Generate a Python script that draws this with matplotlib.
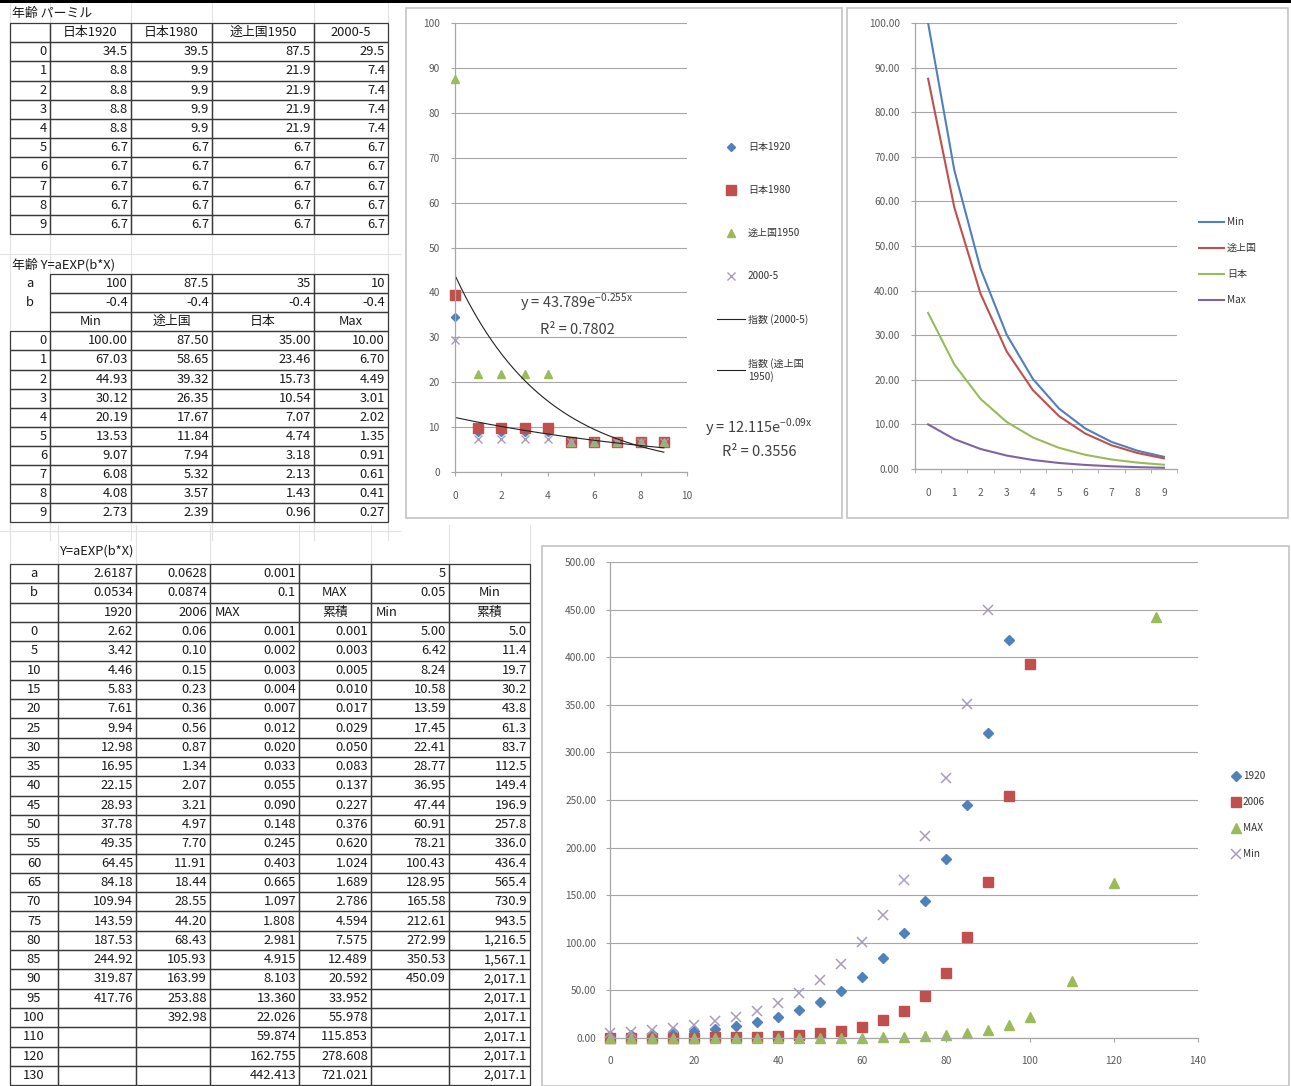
import numpy as np
import matplotlib
matplotlib.use("Agg")
import matplotlib.pyplot as plt
from matplotlib.lines import Line2D
from matplotlib.patches import Rectangle
from matplotlib.ticker import FormatStrFormatter, MultipleLocator, FixedLocator

plt.rcParams['font.family'] = ['Noto Sans CJK JP', 'DejaVu Sans']
plt.rcParams['mathtext.fontset'] = 'dejavusans'

W, H = 1291, 1086

# ---------------- data: table 1 (per mille) ----------------
ages1 = [0, 1, 2, 3, 4, 5, 6, 7, 8, 9]
jp1920 = [34.5, 8.8, 8.8, 8.8, 8.8, 6.7, 6.7, 6.7, 6.7, 6.7]
jp1980 = [39.5, 9.9, 9.9, 9.9, 9.9, 6.7, 6.7, 6.7, 6.7, 6.7]
dev1950 = [87.5, 21.9, 21.9, 21.9, 21.9, 6.7, 6.7, 6.7, 6.7, 6.7]
y2000_5 = [29.5, 7.4, 7.4, 7.4, 7.4, 6.7, 6.7, 6.7, 6.7, 6.7]
t1_headers = ["", "日本1920", "日本1980", "途上国1950", "2000-5"]

# ---------------- data: table 2 (Y=aEXP(b*X)) ----------------
t2_a = ["100", "87.5", "35", "10"]
t2_b = ["-0.4", "-0.4", "-0.4", "-0.4"]
t2_headers = ["Min", "途上国", "日本", "Max"]
min_v = [100.00, 67.03, 44.93, 30.12, 20.19, 13.53, 9.07, 6.08, 4.08, 2.73]
dev_v = [87.50, 58.65, 39.32, 26.35, 17.67, 11.84, 7.94, 5.32, 3.57, 2.39]
jp_v = [35.00, 23.46, 15.73, 10.54, 7.07, 4.74, 3.18, 2.13, 1.43, 0.96]
max_v = [10.00, 6.70, 4.49, 3.01, 2.02, 1.35, 0.91, 0.61, 0.41, 0.27]

# ---------------- data: table 3 ----------------
ages3 = [0, 5, 10, 15, 20, 25, 30, 35, 40, 45, 50, 55, 60, 65, 70, 75, 80, 85,
         90, 95, 100, 110, 120, 130]
t3_a = ["a", "2.6187", "0.0628", "0.001", "", "5", ""]
t3_b = ["b", "0.0534", "0.0874", "0.1", "MAX", "0.05", "Min"]
t3_headers = ["", "1920", "2006", "MAX", "累積", "Min", "累積"]
v1920 = [2.62, 3.42, 4.46, 5.83, 7.61, 9.94, 12.98, 16.95, 22.15, 28.93, 37.78,
         49.35, 64.45, 84.18, 109.94, 143.59, 187.53, 244.92, 319.87, 417.76]
v2006 = [0.06, 0.10, 0.15, 0.23, 0.36, 0.56, 0.87, 1.34, 2.07, 3.21, 4.97, 7.70,
         11.91, 18.44, 28.55, 44.20, 68.43, 105.93, 163.99, 253.88, 392.98]
vmax = [0.001, 0.002, 0.003, 0.004, 0.007, 0.012, 0.020, 0.033, 0.055, 0.090,
        0.148, 0.245, 0.403, 0.665, 1.097, 1.808, 2.981, 4.915, 8.103, 13.360,
        22.026, 59.874, 162.755, 442.413]
vmax_cum = [0.001, 0.003, 0.005, 0.010, 0.017, 0.029, 0.050, 0.083, 0.137, 0.227,
            0.376, 0.620, 1.024, 1.689, 2.786, 4.594, 7.575, 12.489, 20.592,
            33.952, 55.978, 115.853, 278.608, 721.021]
vmin = [5.00, 6.42, 8.24, 10.58, 13.59, 17.45, 22.41, 28.77, 36.95, 47.44, 60.91,
        78.21, 100.43, 128.95, 165.58, 212.61, 272.99, 350.53, 450.09]
vmin_cum = [5.0, 11.4, 19.7, 30.2, 43.8, 61.3, 83.7, 112.5, 149.4, 196.9, 257.8,
            336.0, 436.4, 565.4, 730.9, 943.5, 1216.5, 1567.1, 2017.1, 2017.1,
            2017.1, 2017.1, 2017.1, 2017.1]

eq1_text = ["y = 43.789e$^{\\mathregular{-0.255x}}$", "R² = 0.7802"]
eq2_text = ["y = 12.115e$^{\\mathregular{-0.09x}}$", "R² = 0.3556"]

BLUE, RED, GREEN, PURPLE = '#4F81BD', '#C0504D', '#9BBB59', '#8064A2'
XCOL = '#A99BBD'
BORDER = '#3a3a3a'
TXT = '#1a1a1a'
FAINT = '#e2e2e2'
GRID = '#a6a6a6'
TICK = '#595959'

fig = plt.figure(figsize=(W / 100, H / 100), dpi=100)
bg = fig.add_axes([0, 0, 1, 1])
bg.set_xlim(0, W)
bg.set_ylim(H, 0)
bg.axis('off')


def pax(l, t, r, b):
    a = fig.add_axes([l / W, 1 - b / H, (r - l) / W, (b - t) / H])
    a.patch.set_alpha(0)
    return a


# top black strip
bg.add_patch(Rectangle((0, 0), W, 2.5, color='black', lw=0))

# faint spreadsheet gridlines in the gaps
for x in [10, 50, 131, 212, 314, 388]:
    bg.plot([x, x], [3, 540], color=FAINT, lw=0.8, zorder=0)
for y in [254, 531]:
    bg.plot([0, 400], [y, y], color=FAINT, lw=0.8, zorder=0)
for x in [10, 58, 136, 210, 299, 371, 449, 530]:
    bg.plot([x, x], [525, 1086], color=FAINT, lw=0.8, zorder=0)


def draw_table(xe, top, rh, rows, aligns, box_from, fs=9.3):
    for r, (cells, al, b0) in enumerate(zip(rows, aligns, box_from)):
        y0 = top + r * rh
        if b0 is not None:
            for c in range(b0, len(xe) - 1):
                bg.add_patch(Rectangle((xe[c], y0), xe[c + 1] - xe[c], rh,
                                       fill=False, ec=BORDER, lw=0.9, zorder=2))
        for c, s in enumerate(cells):
            if not s:
                continue
            a = al[c]
            if a == 'r':
                x, ha = xe[c + 1] - 3, 'right'
            elif a == 'l':
                x, ha = xe[c] + 5, 'left'
            else:
                x, ha = (xe[c] + xe[c + 1]) / 2, 'center'
            bg.text(x, y0 + rh / 2, s, ha=ha, va='center', fontsize=fs,
                    color=TXT, zorder=3)


# ---- table 1
xe1 = [10, 50, 131, 212, 314, 388]
bg.text(12, 14, "年齢 パーミル", ha='left', va='center', fontsize=9.3, color=TXT)
rows = [t1_headers]
for i in range(10):
    rows.append([str(ages1[i])] + ["%.1f" % s[i] for s in (jp1920, jp1980, dev1950, y2000_5)])
draw_table(xe1, 23, 19.2, rows, ['ccccc'] + ['rrrrr'] * 10, [0] * 11)

# ---- table 2
bg.text(12, 265, "年齢 Y=aEXP(b*X)", ha='left', va='center', fontsize=9.3, color=TXT)
rows = [["a"] + t2_a, ["b"] + t2_b, [""] + t2_headers]
for i in range(10):
    rows.append([str(ages1[i])] + ["%.2f" % s[i] for s in (min_v, dev_v, jp_v, max_v)])
draw_table(xe1, 274, 19.1, rows, ['crrrr', 'crrrr', 'ccccc'] + ['rrrrr'] * 10,
           [1, 1, 1] + [0] * 10)

# ---- table 3
xe3 = [10, 58, 136, 210, 299, 371, 449, 530]
bg.text(60, 551, "Y=aEXP(b*X)", ha='left', va='center', fontsize=9.3, color=TXT)
rows = [t3_a, t3_b, t3_headers]
for i, ag in enumerate(ages3):
    r = [str(ag)]
    r.append("%.2f" % v1920[i] if i < len(v1920) else "")
    r.append("%.2f" % v2006[i] if i < len(v2006) else "")
    r.append("%.3f" % vmax[i])
    r.append("%.3f" % vmax_cum[i])
    r.append("%.2f" % vmin[i] if i < len(vmin) else "")
    r.append("{:,.1f}".format(vmin_cum[i]))
    rows.append(r)
draw_table(xe3, 564, 19.3, rows, ['crrrrrr', 'crrrcrc', 'crrlclc'] + ['crrrrrr'] * 24,
           [0] * 27)

# ---------------- chart frames ----------------
for (l, t, r, b) in [(406, 8, 842, 518), (847, 8, 1288, 518), (542, 546, 1289, 1086)]:
    bg.add_patch(Rectangle((l, t), r - l, b - t, fc='white', ec='#c4c4c4', lw=1.2, zorder=1))


def style_axes(a):
    for s in ['top', 'right']:
        a.spines[s].set_visible(False)
    for s in ['left', 'bottom']:
        a.spines[s].set_color(GRID)
        a.spines[s].set_linewidth(0.9)
    a.grid(axis='y', color=GRID, lw=0.8)
    a.set_axisbelow(True)
    a.tick_params(labelsize=7.3, colors=TICK, length=3, color=GRID, width=0.8)


# ---------------- chart 1 : scatter with trendlines ----------------
ax1 = pax(455, 23, 687, 472)
ax1.set_xlim(0, 10)
ax1.set_ylim(0, 100)
ax1.set_xticks(range(0, 11, 2))
ax1.set_yticks(range(0, 101, 10))
style_axes(ax1)
ax1.tick_params(axis='x', pad=11)
ax1.tick_params(axis='y', pad=8)
h1, = ax1.plot(ages1, jp1920, 'D', color=BLUE, ms=4.5, ls='none', label='日本1920', clip_on=False)
h2, = ax1.plot(ages1, jp1980, 's', color=RED, ms=6.5, ls='none', label='日本1980', clip_on=False)
h3, = ax1.plot(ages1, dev1950, '^', color=GREEN, ms=6, ls='none', label='途上国1950', clip_on=False)
h4, = ax1.plot(ages1, y2000_5, 'x', color=XCOL, ms=5.5, mew=1.0, ls='none', label='2000-5', clip_on=False)
xs = np.linspace(min(ages1), max(ages1), 200)
c_a = np.polyfit(ages1, np.log(y2000_5), 1)
c_b = np.polyfit(ages1, np.log(dev1950), 1)
h5, = ax1.plot(xs, np.exp(np.polyval(c_a, xs)), color='#222222', lw=0.8, label='指数 (2000-5)')
h6, = ax1.plot(xs, np.exp(np.polyval(c_b, xs)), color='#222222', lw=0.8, label='指数 (途上国\n1950)')
ax1.legend(handles=[h1, h2, h3, h4, h5, h6], loc='upper left',
           bbox_to_anchor=(717 / W, 1 - 142 / H), bbox_transform=fig.transFigure,
           frameon=False, fontsize=7.2, labelspacing=3.3, handlelength=2.8,
           handletextpad=0.3, borderpad=0, borderaxespad=0, labelcolor='#333333')
bg.text(577, 302, eq1_text[0], ha='center', va='center', fontsize=10.5, color='#404040', zorder=5)
bg.text(577, 330, eq1_text[1], ha='center', va='center', fontsize=10.5, color='#404040', zorder=5)
bg.text(759, 427, eq2_text[0], ha='center', va='center', fontsize=10.5, color='#404040', zorder=5)
bg.text(759, 452, eq2_text[1], ha='center', va='center', fontsize=10.5, color='#404040', zorder=5)

# ---------------- chart 2 : lines by category ----------------
ax2 = pax(915, 23, 1177, 469)
ax2.set_xlim(0, 10)
ax2.set_ylim(0, 100)
ax2.yaxis.set_major_locator(MultipleLocator(10))
ax2.yaxis.set_major_formatter(FormatStrFormatter('%.2f'))
style_axes(ax2)
cx = np.arange(len(ages1)) + 0.5
ax2.xaxis.set_major_locator(FixedLocator(cx))
ax2.set_xticklabels([str(a) for a in ages1])
ax2.xaxis.set_minor_locator(FixedLocator(np.arange(0, 11)))
ax2.tick_params(axis='x', which='major', length=0, pad=14)
ax2.tick_params(axis='x', which='minor', length=3, color=GRID)
ax2.tick_params(axis='y', pad=8)
l1, = ax2.plot(cx, min_v, color=BLUE, lw=1.5, label='Min')
l2, = ax2.plot(cx, dev_v, color=RED, lw=1.5, label='途上国')
l3, = ax2.plot(cx, jp_v, color=GREEN, lw=1.5, label='日本')
l4, = ax2.plot(cx, max_v, color=PURPLE, lw=1.5, label='Max')
ax2.legend(handles=[l1, l2, l3, l4], loc='upper left',
           bbox_to_anchor=(1199 / W, 1 - 217 / H), bbox_transform=fig.transFigure,
           frameon=False, fontsize=7.2, labelspacing=1.6, handlelength=2.5,
           handletextpad=0.3, borderpad=0, borderaxespad=0, labelcolor='#333333')

# ---------------- chart 3 : scatter ----------------
ax3 = pax(610, 562, 1198, 1038)
ax3.set_xlim(0, 140)
ax3.set_ylim(0, 500)
ax3.xaxis.set_major_locator(MultipleLocator(20))
ax3.yaxis.set_major_locator(MultipleLocator(50))
ax3.yaxis.set_major_formatter(FormatStrFormatter('%.2f'))
style_axes(ax3)
ax3.tick_params(axis='x', pad=10)
ax3.tick_params(axis='y', pad=7)
m1, = ax3.plot(ages3[:len(v1920)], v1920, 'D', color=BLUE, ms=5, ls='none', label='1920', clip_on=False)
m2, = ax3.plot(ages3[:len(v2006)], v2006, 's', color=RED, ms=7, ls='none', label='2006', clip_on=False)
m3, = ax3.plot(ages3[:len(vmax)], vmax, '^', color=GREEN, ms=6.5, ls='none', label='MAX', clip_on=False)
m4, = ax3.plot(ages3[:len(vmin)], vmin, 'x', color=XCOL, ms=7, mew=1.1, ls='none', label='Min', clip_on=False)
ax3.legend(handles=[m1, m2, m3, m4], loc='upper left',
           bbox_to_anchor=(1232 / W, 1 - 771 / H), bbox_transform=fig.transFigure,
           frameon=False, fontsize=7.2, labelspacing=1.6, handlelength=0.8,
           handletextpad=0.3, borderpad=0, borderaxespad=0, labelcolor='#333333')

fig.savefig('out.png', dpi=100)
